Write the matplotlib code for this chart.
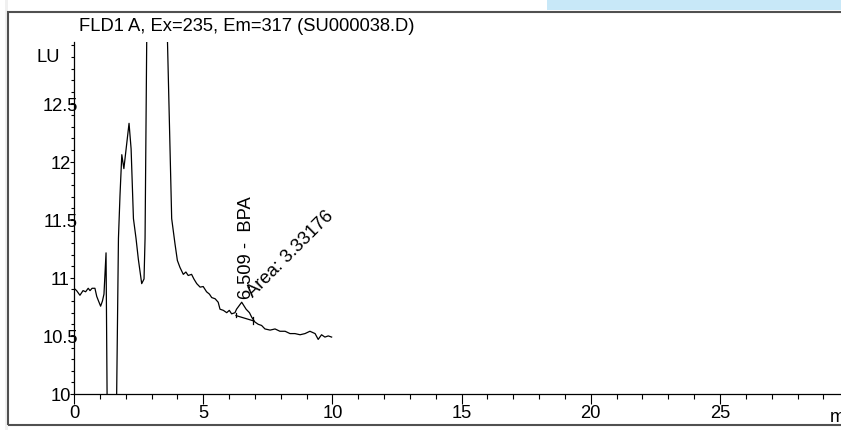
import matplotlib
matplotlib.use("Agg")
import matplotlib.pyplot as plt
from matplotlib.patches import Rectangle
from matplotlib.ticker import MultipleLocator

plt.rcParams['font.family'] = ['Liberation Sans', 'DejaVu Sans']

# FLD1 A signal (retention time in min, LU)
time = [0.0, 0.10, 0.23, 0.35, 0.45, 0.55, 0.62, 0.70, 0.81, 0.88, 0.95, 1.03,
        1.10, 1.16, 1.24, 1.30, 1.62, 1.72, 1.78, 1.85, 1.93, 2.13, 2.21, 2.30,
        2.40, 2.49, 2.62, 2.71, 2.75, 2.82, 3.20, 3.60, 3.78, 3.91, 4.00, 4.10,
        4.23, 4.33, 4.42, 4.55, 4.64, 4.75, 4.88, 5.00, 5.13, 5.24, 5.33, 5.46,
        5.58, 5.65, 5.78, 5.91, 6.01, 6.10, 6.23, 6.29, 6.49, 6.66, 6.79, 6.88,
        7.00, 7.13, 7.26, 7.39, 7.59, 7.78, 7.97, 8.17, 8.36, 8.55, 8.75, 8.94,
        9.13, 9.33, 9.45, 9.58, 9.71, 9.84, 9.97]
signal = [10.91, 10.89, 10.85, 10.89, 10.88, 10.91, 10.89, 10.91, 10.91, 10.84,
          10.80, 10.756, 10.80, 10.86, 11.215, 9.4, 9.4, 11.34, 11.71, 12.06,
          11.94, 12.33, 12.11, 11.51, 11.34, 11.16, 10.95, 10.99, 11.34, 13.2,
          15.0, 13.2, 11.51, 11.29, 11.15, 11.09, 11.03, 11.05, 11.02, 11.03,
          10.99, 10.95, 10.92, 10.925, 10.88, 10.86, 10.83, 10.82, 10.79, 10.73,
          10.72, 10.70, 10.72, 10.69, 10.70, 10.73, 10.79, 10.73, 10.70, 10.66,
          10.62, 10.60, 10.59, 10.56, 10.55, 10.56, 10.54, 10.54, 10.52, 10.52,
          10.51, 10.52, 10.54, 10.52, 10.47, 10.51, 10.49, 10.50, 10.49]

# integration baseline of the BPA peak
base_t = [6.27, 6.94]
base_y = [10.675, 10.63]

peak_label = "6.509 -  BPA"
area_label = "Area: 3.33176"

fig = plt.figure(figsize=(8.41, 4.31), dpi=100)
W, H = 841, 431
fs = 13.2

# window decorations around the plot
fig.patches.append(Rectangle((5 / W, 0), 3 / W, 1, transform=fig.transFigure,
                             facecolor='#f0f0f0', edgecolor='none'))
fig.patches.append(Rectangle((547 / W, 1 - 11 / H), (W - 547) / W, 11 / H,
                             transform=fig.transFigure,
                             facecolor='#c8e8f8', edgecolor='none'))
fig.patches.append(Rectangle((8 / W, 1 - 426 / H), 1.2, (426 - 13) / H,
                             transform=fig.transFigure, facecolor='none',
                             edgecolor='#505050', linewidth=1.5))

ax = fig.add_axes([74 / W, 36 / H, (W - 74) / W, (395 - 43) / H])
ax.plot(time, signal, color='black', linewidth=0.9)
ax.plot(base_t, base_y, color='black', linewidth=0.9)
ax.plot([base_t[0], base_t[0]], [base_y[0] - 0.01, base_y[0] + 0.025],
        color='black', linewidth=0.9)
ax.plot([base_t[1], base_t[1]], [base_y[1] - 0.03, base_y[1] + 0.03],
        color='black', linewidth=0.9)

ax.text(6.66, 10.83, peak_label, rotation=90, ha='center', va='bottom',
        fontsize=fs)
ax.text(6.92, 10.836, area_label, rotation=45, rotation_mode='anchor',
        ha='left', va='baseline', fontsize=fs)

ax.set_xlim(0, (W - 74) / 25.84)
ax.set_ylim(10, 13.03)
ax.set_facecolor('none')
ax.spines['top'].set_visible(False)
ax.spines['right'].set_visible(False)
for s in ('left', 'bottom'):
    ax.spines[s].set_linewidth(0.9)

ax.xaxis.set_major_locator(MultipleLocator(5))
ax.xaxis.set_minor_locator(MultipleLocator(1))
ax.yaxis.set_major_locator(MultipleLocator(0.5))
ax.yaxis.set_minor_locator(MultipleLocator(0.1))
ax.set_xticks([0, 5, 10, 15, 20, 25])
ax.set_xticklabels(['0', '5', '10', '15', '20', '25'])
ax.set_yticks([10, 10.5, 11, 11.5, 12, 12.5])
ax.set_yticklabels(['10', '10.5', '11', '11.5', '12', '12.5'])

ax.tick_params(axis='x', which='major', length=7, width=0.8, pad=0, labelsize=fs)
ax.tick_params(axis='x', which='minor', length=3.6, width=0.8)
ax.tick_params(axis='y', which='major', length=3, width=0.8, pad=6.8, labelsize=fs)
ax.tick_params(axis='y', which='minor', length=2.2, width=0.8)
for lab in ax.get_yticklabels():
    lab.set_horizontalalignment('center')

fig.text(79 / W, 1 - 31 / H, "FLD1 A, Ex=235, Em=317 (SU000038.D)",
         fontsize=fs, va='baseline', ha='left')
fig.text(37 / W, 1 - 62 / H, "LU", fontsize=fs, va='baseline', ha='left')
# axis unit, cut off by the window edge as in the original screenshot
fig.text(830 / W, 1 - 422 / H, "min", fontsize=fs, va='baseline', ha='left')

fig.savefig('out.png', dpi=100)
